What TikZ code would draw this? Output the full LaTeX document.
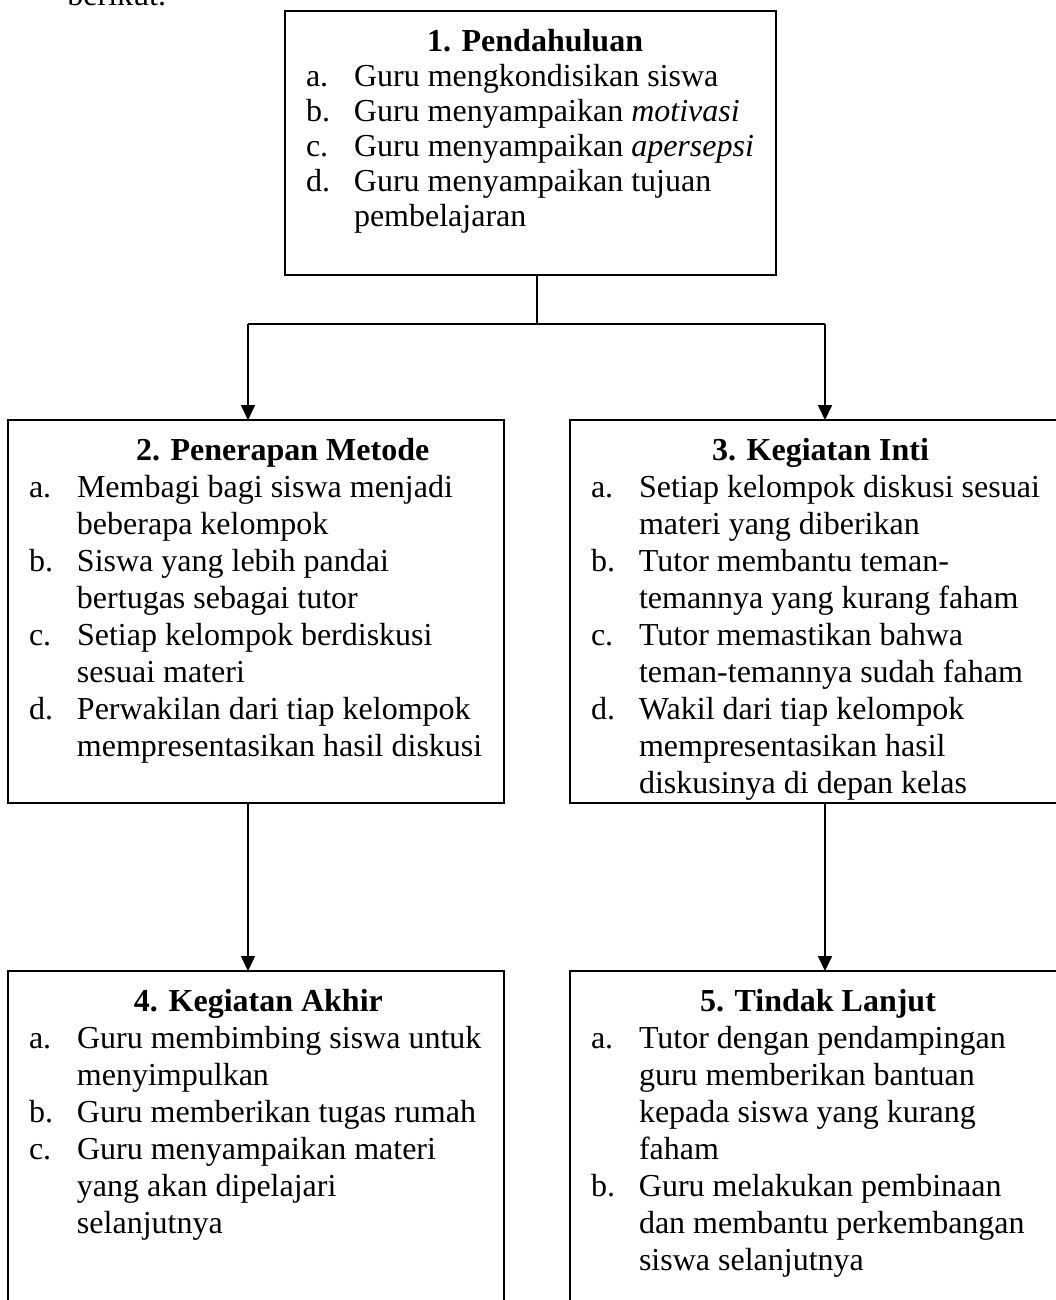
\documentclass[tikz,border=0pt]{standalone}
\usepackage{fontspec}
\setmainfont{Liberation Serif}
\usetikzlibrary{arrows.meta,calc}
\newlength\px
\setlength\px{0.375pt}
\newcommand\judul[2]{\noindent\rule{0pt}{40\px}\hspace*{#1\px}\textbf{#2}\par}
\newcommand\butir[2]{\hangindent=69\px\hangafter=1\noindent\hspace*{21\px}\makebox[48\px][l]{#1}#2\par}
\newcommand\isikotak[4]{\parbox[c][#2\px][t]{#1\px}{\baselineskip=#3\px\raggedright #4}}
\begin{document}
\begin{tikzpicture}[x=0.375pt,y=-0.375pt,
  kotak/.style={draw,line width=0.56pt,inner sep=0pt,outer sep=0pt,anchor=north west,font=\fontsize{12pt}{13.5pt}\selectfont},
  garis/.style={line width=0.56pt},
  panah/.style={line width=0.56pt,-{Triangle[width=5.25pt,length=5.6pt]}}]
\useasboundingbox (0,0) rectangle (1055,1300);
\node[anchor=base west,font=\fontsize{12pt}{13.5pt}\selectfont] (pengantar) at (58,5) {berikut.};
\node[kotak] (pendahuluan) at (285,11) {\isikotak{491}{264}{35}{%
  \judul{142}{1. Pendahuluan}
  \butir{a.}{Guru mengkondisikan siswa}
  \butir{b.}{Guru menyampaikan \textit{motivasi}}
  \butir{c.}{Guru menyampaikan \textit{apersepsi}}
  \butir{d.}{Guru menyampaikan tujuan\newline pembelajaran}}};
\node[kotak] (metode) at (8,420) {\isikotak{496}{383}{37}{%
  \judul{128}{2. Penerapan Metode}
  \butir{a.}{Membagi bagi siswa menjadi\newline beberapa kelompok}
  \butir{b.}{Siswa yang lebih pandai\newline bertugas sebagai tutor}
  \butir{c.}{Setiap kelompok berdiskusi\newline sesuai materi}
  \butir{d.}{Perwakilan dari tiap kelompok\newline mempresentasikan hasil diskusi}}};
\node[kotak] (inti) at (570,420) {\isikotak{490}{383}{37}{%
  \judul{142}{3. Kegiatan Inti}
  \butir{a.}{Setiap kelompok diskusi sesuai\newline materi yang diberikan}
  \butir{b.}{Tutor membantu teman-\newline temannya yang kurang faham}
  \butir{c.}{Tutor memastikan bahwa\newline teman-temannya sudah faham}
  \butir{d.}{Wakil dari tiap kelompok\newline mempresentasikan hasil\newline diskusinya di depan kelas}}};
\node[kotak] (akhir) at (8,971) {\isikotak{496}{349}{37}{%
  \judul{126}{4. Kegiatan Akhir}
  \butir{a.}{Guru membimbing siswa untuk\newline menyimpulkan}
  \butir{b.}{Guru memberikan tugas rumah}
  \butir{c.}{Guru menyampaikan materi\newline yang akan dipelajari\newline selanjutnya}}};
\node[kotak] (lanjut) at (570,971) {\isikotak{490}{349}{37}{%
  \judul{130}{5. Tindak Lanjut}
  \butir{a.}{Tutor dengan pendampingan\newline guru memberikan bantuan\newline kepada siswa yang kurang\newline faham}
  \butir{b.}{Guru melakukan pembinaan\newline dan membantu perkembangan\newline siswa selanjutnya}}};
\coordinate (cabang) at (537,324);
\coordinate (kiri) at (248,324);
\coordinate (kanan) at (825,324);
\draw[garis] (pendahuluan.south -| cabang) -- (cabang);
\draw[garis] (kiri) -- (kanan);
\draw[panah] (kiri) -- (kiri |- metode.north);
\draw[panah] (kanan) -- (kanan |- inti.north);
\draw[panah] (kiri |- metode.south) -- (kiri |- akhir.north);
\draw[panah] (kanan |- inti.south) -- (kanan |- lanjut.north);
\end{tikzpicture}
\end{document}
